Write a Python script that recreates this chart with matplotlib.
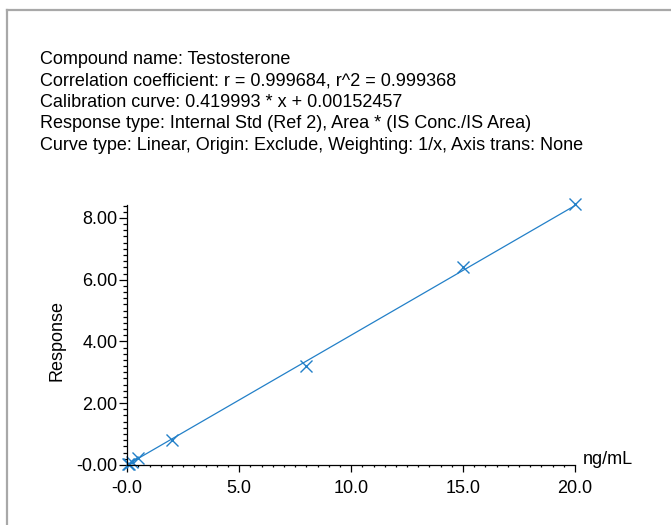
import numpy as np
import matplotlib
matplotlib.use("Agg")
import matplotlib.pyplot as plt
from matplotlib.lines import Line2D
from matplotlib.ticker import FixedLocator, MultipleLocator

plt.rcParams['font.family'] = ['Liberation Sans', 'DejaVu Sans']

header = [
    "Compound name: Testosterone",
    "Correlation coefficient: r = 0.999684, r^2 = 0.999368",
    "Calibration curve: 0.419993 * x + 0.00152457",
    "Response type: Internal Std (Ref 2), Area * (IS Conc./IS Area)",
    "Curve type: Linear, Origin: Exclude, Weighting: 1/x, Axis trans: None",
]

# calibration standards (ng/mL) and measured response
conc = [0.05, 0.1, 0.2, 0.5, 2.0, 8.0, 15.0, 20.0]
response = [0.02, 0.04, 0.10, 0.22, 0.82, 3.20, 6.42, 8.44]

# fitted line
slope, intercept = 0.419993, 0.00152457
fit_x = np.array([0.0, 20.0])

xticks = [0, 5, 10, 15, 20]
xticklabels = ["-0.0", "5.0", "10.0", "15.0", "20.0"]
yticks = [0, 2, 4, 6, 8]
yticklabels = ["-0.00", "2.00", "4.00", "6.00", "8.00"]

blue = '#2380c8'
W, H = 671, 525
fs = 13
fig = plt.figure(figsize=(W / 100, H / 100), dpi=100)

# grey frame around the report panel
fig.add_artist(Line2D([6.5 / W, 1], [1 - 9.5 / H, 1 - 9.5 / H], color='#a8a8a8', lw=1.6))
fig.add_artist(Line2D([6.5 / W, 6.5 / W], [0, 1 - 9.5 / H], color='#a8a8a8', lw=1.6))

for i, line in enumerate(header):
    fig.text(40 / W, 1 - (60 + 21.25 * i) / H, line, fontsize=fs, va='center', ha='left')

ax = fig.add_axes([127 / W, 1 - 465 / H, 448 / W, 260 / H])
ax.plot(fit_x, slope * fit_x + intercept, color=blue, lw=0.9, clip_on=False)
ax.plot(conc, response, 'x', color=blue, ms=8, mew=1.0, clip_on=False)

ax.set_xlim(-0.01, 20)
ax.set_ylim(-0.005, 8.42)
for s in ['top', 'right']:
    ax.spines[s].set_visible(False)
for s in ['left', 'bottom']:
    ax.spines[s].set_linewidth(0.9)

ax.xaxis.set_major_locator(FixedLocator(xticks))
ax.set_xticklabels(xticklabels)
ax.yaxis.set_major_locator(FixedLocator(yticks))
ax.set_yticklabels(yticklabels)
ax.xaxis.set_minor_locator(MultipleLocator(0.5))
ax.yaxis.set_minor_locator(MultipleLocator(0.2))
ax.tick_params(axis='both', which='both', direction='out', width=0.9, labelsize=fs)
ax.tick_params(axis='x', which='major', length=6.5 * 0.72, pad=6)
ax.tick_params(axis='x', which='minor', length=2.5 * 0.72)
ax.tick_params(axis='y', which='major', length=8 * 0.72, pad=1)
ax.tick_params(axis='y', which='minor', length=4 * 0.72)

# medium ticks at the half-way points
for t in ax.xaxis.get_minor_ticks():
    if abs((t.get_loc() % 5) - 2.5) < 1e-6:
        t.tick1line.set_markersize(4.5 * 0.72)
for t in ax.yaxis.get_minor_ticks():
    if abs((t.get_loc() % 2) - 1.0) < 1e-6:
        t.tick1line.set_markersize(6 * 0.72)

ax.set_ylabel("Response", fontsize=fs)
ax.yaxis.set_label_coords(-0.138, 0.48)
fig.text(583 / W, 1 - 459 / H, "ng/mL", fontsize=fs, va='center', ha='left')

fig.savefig("out.png", dpi=100)
